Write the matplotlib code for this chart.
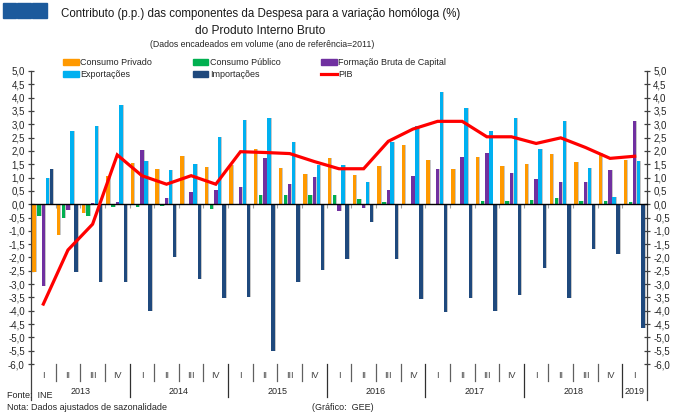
import numpy as np
import matplotlib
matplotlib.use("Agg")
import matplotlib.pyplot as plt
from matplotlib.patches import Patch, Rectangle
from matplotlib.lines import Line2D
from matplotlib.ticker import FuncFormatter, MultipleLocator
from matplotlib.transforms import blended_transform_factory

plt.rcParams['font.family'] = ['Liberation Sans', 'DejaVu Sans']

# trimestres 2013 I .. 2019 I
quarters = ["I", "II", "III", "IV"] * 6 + ["I"]
years = ["2013", "2014", "2015", "2016", "2017", "2018", "2019"]

consumo_privado = [-2.55, -1.15, -0.33, 1.04, 1.54, 1.32, 1.82, 1.39, 1.48, 2.09, 1.35, 1.14, 1.75,
                   1.08, 1.42, 2.23, 1.67, 1.33, 1.77, 1.45, 1.52, 1.89, 1.59, 1.93, 1.65]
consumo_publico = [-0.45, -0.52, -0.45, -0.10, -0.10, -0.05, 0.02, -0.19, 0.02, 0.33, 0.33, 0.35, 0.35,
                   0.20, 0.09, 0.01, 0.01, -0.03, 0.11, 0.13, 0.15, 0.23, 0.13, 0.13, 0.09]
fbc = [-3.07, -0.22, 0.04, 0.10, 2.02, 0.24, 0.46, 0.53, 0.65, 1.75, 0.75, 1.01, -0.25,
       -0.15, 0.55, 1.07, 1.32, 1.77, 1.94, 1.17, 0.94, 0.84, 0.84, 1.30, 3.13]
exportacoes = [0.99, 2.76, 2.94, 3.73, 1.63, 1.29, 1.52, 2.52, 3.15, 3.23, 2.34, 1.48, 1.47,
               0.83, 2.32, 2.94, 4.21, 3.61, 2.73, 3.23, 2.09, 3.11, 1.34, 0.26, 1.62]
importacoes = [1.33, -2.55, -2.93, -2.92, -4.00, -1.99, -2.81, -3.52, -3.48, -5.51, -2.93, -2.47, -2.07,
               -0.68, -2.07, -3.56, -4.06, -3.52, -4.00, -3.41, -2.38, -3.51, -1.70, -1.87, -4.65]
pib = [-3.75, -1.72, -0.75, 1.85, 1.07, 0.75, 1.07, 0.75, 1.97, 1.94, 1.90, 1.60, 1.33,
       1.33, 2.36, 2.82, 3.11, 3.11, 2.53, 2.53, 2.28, 2.49, 2.13, 1.72, 1.80]

c_priv, c_pub, c_fbc, c_exp, c_imp, c_pib = "#ff9900", "#00b050", "#7030a0", "#00b0f0", "#1f497d", "#ff0000"

W, H = 680, 418
fig = plt.figure(figsize=(W / 100, H / 100), dpi=100)
ax = fig.add_axes([31 / W, 1 - 364 / H, 616 / W, 293 / H])

x = np.arange(len(quarters))
series = [(consumo_privado, c_priv, -0.38), (consumo_publico, c_pub, -0.18), (fbc, c_fbc, 0.0),
          (exportacoes, c_exp, 0.16), (importacoes, c_imp, 0.33)]
bw = 0.14
for vals, col, off in series:
    ax.bar(x + off + 0.04, vals, bw, color="#c8c8c8", zorder=1)
    ax.bar(x + off, vals, bw, color=col, zorder=2)

ax.plot(x, pib, color=c_pib, lw=2.3, zorder=4, solid_joinstyle="miter")

ax.set_xlim(-0.5, 24.5)
ax.set_ylim(-6, 5)
ax.yaxis.set_major_locator(MultipleLocator(0.5))
ax.yaxis.set_major_formatter(FuncFormatter(lambda v, p: f"{round(v, 1) + 0.0:.1f}".replace(".", ",")))
ax.tick_params(axis="y", left=True, right=True, labelleft=True, labelright=True, direction="inout",
               length=5, width=0.9, labelsize=7, color="#404040", labelcolor="#262626", pad=2)

ax.spines["top"].set_visible(False)
ax.spines["bottom"].set_position(("data", 0))
ax.spines["bottom"].set_color("black")
ax.spines["bottom"].set_linewidth(1.0)
for s in ("left", "right"):
    ax.spines[s].set_color("#404040")
    ax.spines[s].set_linewidth(0.9)
ax.set_xticks(np.arange(0.5, 24, 1))
ax.tick_params(axis="x", direction="out", length=3, width=0.8, color="#a0a0a0", labelbottom=False)

# eixo de categorias por baixo
tr = blended_transform_factory(ax.transData, ax.transAxes)
ylab_q = -(375 - 364) / 293
ylab_y = -(392 - 364) / 293
for k, q in enumerate(quarters):
    ax.text(k, ylab_q, q, transform=tr, ha="center", va="center", fontsize=6.5, color="#404040")
for i, yr in enumerate(years):
    ax.text(i * 4 + 1.5 if i < 6 else 24, ylab_y, yr, transform=tr, ha="center", va="center",
            fontsize=6.5, color="#262626")
for b in np.arange(0.5, 24, 1):
    long_sep = (b + 0.5) % 4 == 0
    y1 = -(397 - 364) / 293 if long_sep else -(381 - 364) / 293
    ax.plot([b, b], [0, y1], transform=tr, color="#303030" if long_sep else "#606060", lw=0.9, clip_on=False)
for b in (-0.5, 24.5):
    ax.plot([b, b], [0, -(400 - 364) / 293], transform=tr, color="#404040", lw=0.9, clip_on=False)

# titulos
fig.text(261 / W, 1 - 14 / H, "Contributo (p.p.) das componentes da Despesa para a variação homóloga (%)",
         ha="center", va="center", fontsize=8.3, color="#1a1a1a")
fig.text(260 / W, 1 - 31.5 / H, "do Produto Interno Bruto", ha="center", va="center", fontsize=8.6,
         color="#1a1a1a")
fig.text(262 / W, 1 - 44.5 / H, "(Dados encadeados em volume (ano de referência=2011)",
         ha="center", va="center", fontsize=6.3, color="#262626")

for x0, x1 in [(2.7, 15.7), (17.3, 30.7), (32.3, 46.7)]:
    fig.add_artist(Rectangle((x0 / W, 1 - 18.3 / H), (x1 - x0) / W, 15.6 / H,
                             transform=fig.transFigure, color="#1c5a9c"))

handles = [Patch(color=c_priv), Patch(color=c_exp), Patch(color=c_pub), Patch(color=c_imp),
           Patch(color=c_fbc), Line2D([], [], color=c_pib, lw=2.3)]
labels = ["Consumo Privado", "Exportações", "Consumo Público", "Importações",
          "Formação Bruta de Capital", "PIB"]
fig.legend(handles, labels, ncol=3, loc="upper left", bbox_to_anchor=(63 / W, 1 - 58 / H),
           frameon=False, fontsize=6.5, handlelength=1.75, handleheight=0.7, handletextpad=0.15,
           columnspacing=4.5, labelspacing=0.35, borderaxespad=0, borderpad=0, labelcolor="#262626")

fig.text(7 / W, 1 - 396 / H, "Fonte:  INE", fontsize=6.5, va="center", color="#262626")
fig.text(7 / W, 1 - 407 / H, "Nota: Dados ajustados de sazonalidade", fontsize=6.5, va="center", color="#262626")
fig.text(343 / W, 1 - 408 / H, "(Gráfico:  GEE)", fontsize=6.5, ha="center", va="center", color="#262626")

fig.savefig("out.png", dpi=100)
